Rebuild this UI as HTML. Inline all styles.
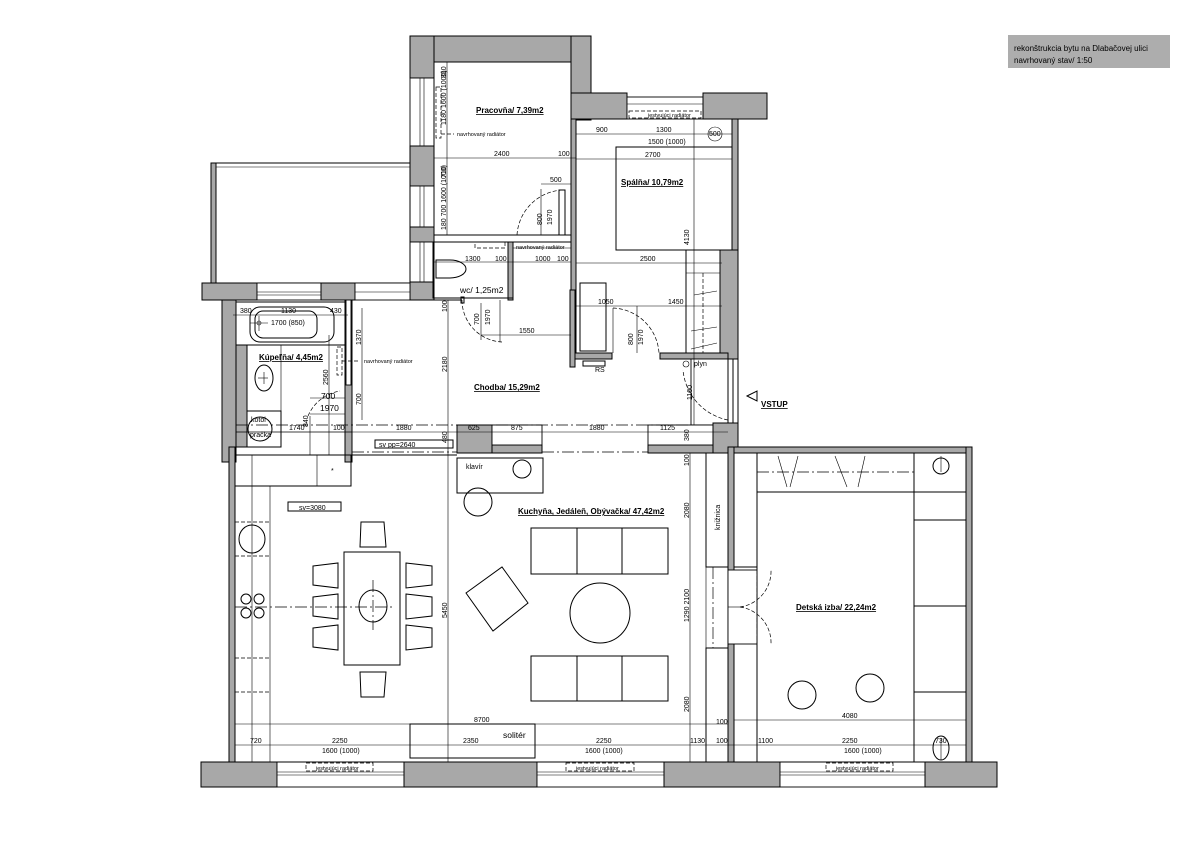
<!DOCTYPE html>
<html><head><meta charset="utf-8"><style>
html,body{margin:0;padding:0;background:#fff;}
svg{display:block;}
text{font-family:"Liberation Sans",sans-serif;fill:#000;}
.w{fill:#a8a8a8;stroke:#000;stroke-width:1;}
.l{stroke:#000;stroke-width:1;fill:none;}
.t{stroke:#000;stroke-width:0.6;fill:none;}
.d{stroke:#000;stroke-width:0.7;fill:none;stroke-dasharray:4,2;}
.dd{stroke:#000;stroke-width:0.7;fill:none;stroke-dasharray:12,3,2,3;}
.f{fill:#fff;stroke:#000;stroke-width:0.9;}
.s{font-size:7px;}
.m{font-size:8.5px;}
.b{font-size:8px;font-weight:bold;text-decoration:underline;}
</style></head><body>
<svg width="1190" height="841" viewBox="0 0 1190 841" xmlns="http://www.w3.org/2000/svg">
<!-- title -->
<rect x="1008" y="35" width="162" height="33" fill="#adadad"/>
<text x="1014" y="51" style="font-size:8px">rekonštrukcia bytu na Dlabačovej ulici</text>
<text x="1014" y="63" style="font-size:8px">navrhovaný stav/ 1:50</text>

<!-- ===== WALLS ===== -->
<!-- Pracovna top -->
<rect class="w" x="410" y="36" width="181" height="26"/>
<rect class="w" x="571" y="36" width="20" height="84"/>
<rect class="w" x="571" y="93" width="56" height="26"/>
<rect class="w" x="571" y="119" width="5" height="240"/>
<!-- window top spalna -->
<rect class="f" x="627" y="97" width="76" height="22"/>
<line class="t" x1="627" y1="104" x2="703" y2="104"/>
<rect class="d" x="629" y="111" width="72" height="7"/>
<text class="s" x="648" y="117" style="font-size:5.5px">jestvujúci radiátor</text>
<rect class="w" x="703" y="93" width="64" height="26"/>
<rect class="w" x="732" y="119" width="6" height="240"/>
<rect class="w" x="720" y="250" width="18" height="109"/>
<!-- Pracovna left wall -->
<rect class="w" x="410" y="36" width="24" height="42"/>
<rect class="f" x="410" y="78" width="24" height="68"/>
<line class="t" x1="420" y1="78" x2="420" y2="146"/><line class="t" x1="424" y1="78" x2="424" y2="146"/>
<rect class="w" x="410" y="146" width="24" height="40"/>
<rect class="f" x="410" y="186" width="24" height="41"/>
<line class="t" x1="420" y1="186" x2="420" y2="227"/><line class="t" x1="424" y1="186" x2="424" y2="227"/>
<rect class="w" x="410" y="227" width="24" height="15"/>
<rect class="f" x="410" y="242" width="24" height="40"/>
<line class="t" x1="420" y1="242" x2="420" y2="282"/><line class="t" x1="424" y1="242" x2="424" y2="282"/>
<rect class="w" x="410" y="282" width="24" height="18"/>
<!-- Terasa -->
<rect class="l" x="211" y="163" width="199" height="120"/>
<rect class="w" x="211" y="163" width="5" height="120"/>
<line class="t" x1="216" y1="167" x2="410" y2="167"/>
<!-- wall row y283-300 -->
<rect class="w" x="202" y="283" width="55" height="17"/>
<rect class="f" x="257" y="283" width="64" height="17"/>
<line class="t" x1="257" y1="292" x2="321" y2="292"/><line class="t" x1="257" y1="295" x2="321" y2="295"/>
<rect class="w" x="321" y="283" width="34" height="17"/>
<rect class="f" x="355" y="283" width="55" height="17"/>
<line class="t" x1="355" y1="292" x2="410" y2="292"/>
<!-- bathroom walls -->
<rect class="w" x="222" y="300" width="14" height="162"/>
<rect class="w" x="236" y="345" width="11" height="102"/>
<rect class="w" x="345" y="300" width="7" height="162"/>
<rect class="f" x="346" y="300" width="5" height="85"/>
<!-- WC walls -->
<rect class="l" x="433" y="242" width="75" height="56"/>
<rect class="w" x="508" y="242" width="5" height="58"/>
<line class="l" x1="434" y1="235" x2="571" y2="235"/>
<line class="l" x1="434" y1="242" x2="571" y2="242"/>
<line class="l" x1="434" y1="61" x2="434" y2="298"/>
<line class="l" x1="433" y1="298" x2="513" y2="298"/>
<line class="l" x1="433" y1="300" x2="462" y2="300"/>
<!-- Spalna bottom wall -->
<rect class="w" x="575" y="353" width="37" height="6"/>
<rect class="w" x="660" y="353" width="68" height="6"/>
<rect class="w" x="570" y="290" width="5" height="77"/>
<!-- right side chodba -->
<rect class="f" x="691" y="359" width="37" height="66"/>
<line class="l" x1="728" y1="359" x2="728" y2="425"/><line class="l" x1="733" y1="359" x2="733" y2="425"/>
<line class="l" x1="738" y1="119" x2="738" y2="447"/>
<!-- chodba bottom -->
<rect class="w" x="457" y="425" width="35" height="28"/>
<rect class="w" x="492" y="445" width="50" height="8"/>
<rect class="f" x="492" y="425" width="50" height="20"/>
<rect class="w" x="648" y="445" width="65" height="8"/>
<rect class="f" x="648" y="425" width="65" height="20"/>
<rect class="w" x="713" y="423" width="25" height="30"/>
<line class="dd" x1="236" y1="425" x2="691" y2="425"/>
<line class="dd" x1="352" y1="452" x2="457" y2="452"/>
<line class="dd" x1="542" y1="452" x2="648" y2="452"/>
<!-- living outer -->
<rect class="w" x="229" y="447" width="6" height="316"/>
<line class="l" x1="235" y1="455" x2="457" y2="455"/>
<rect class="w" x="728" y="447" width="6" height="316"/>
<rect class="w" x="734" y="447" width="238" height="6"/>
<rect class="w" x="966" y="447" width="6" height="316"/>
<!-- bottom wall row -->
<rect class="w" x="201" y="762" width="76" height="25"/>
<rect class="f" x="277" y="762" width="127" height="25"/>
<line class="t" x1="277" y1="772" x2="404" y2="772"/><line class="t" x1="277" y1="775" x2="404" y2="775"/>
<rect class="d" x="306" y="763" width="67" height="8"/>
<text x="316" y="770" style="font-size:5.5px">jestvujúci radiátor</text>
<rect class="w" x="404" y="762" width="133" height="25"/>
<rect class="f" x="537" y="762" width="127" height="25"/>
<line class="t" x1="537" y1="772" x2="664" y2="772"/><line class="t" x1="537" y1="775" x2="664" y2="775"/>
<rect class="d" x="566" y="763" width="68" height="8"/>
<text x="576" y="770" style="font-size:5.5px">jestvujúci radiátor</text>
<rect class="w" x="664" y="762" width="116" height="25"/>
<rect class="f" x="780" y="762" width="145" height="25"/>
<line class="t" x1="780" y1="772" x2="925" y2="772"/><line class="t" x1="780" y1="775" x2="925" y2="775"/>
<rect class="d" x="826" y="763" width="67" height="8"/>
<text x="836" y="770" style="font-size:5.5px">jestvujúci radiátor</text>
<rect class="w" x="925" y="762" width="72" height="25"/>
<line class="l" x1="235" y1="762" x2="966" y2="762"/>

<!-- ===== PRACOVNA ===== -->
<rect class="d" x="436" y="87" width="5" height="51"/>
<line class="d" x1="441" y1="134" x2="454" y2="134"/>
<text x="457" y="136" style="font-size:5.5px">navrhovaný radiátor</text>
<line class="t" x1="447" y1="62" x2="447" y2="235"/>
<line class="t" x1="434" y1="158" x2="576" y2="158"/>
<text class="s" x="494" y="156">2400</text><text class="s" x="558" y="156">100</text>
<text class="s" transform="translate(446,78) rotate(-90)">310</text>
<text class="s" transform="translate(446,125) rotate(-90)">1180 1600 (1000)</text>
<text class="s" transform="translate(446,178) rotate(-90)">710</text>
<text class="s" transform="translate(446,230) rotate(-90)">180 700 1600 (1000)</text>
<text class="b" x="476" y="113">Pracovňa/ 7,39m2</text>
<!-- door pracovna -->
<line class="t" x1="541" y1="189" x2="541" y2="235"/>
<rect class="l" x="559" y="190" width="6" height="45"/>
<path class="d" d="M517 235 A48 48 0 0 1 563 190"/>
<line class="t" x1="541" y1="184" x2="571" y2="184"/><text class="s" x="550" y="182">500</text>
<text class="s" transform="translate(542,225) rotate(-90)">800</text>
<text class="s" transform="translate(552,225) rotate(-90)">1970</text>
<rect class="d" x="475" y="242" width="30" height="6"/>
<text x="516" y="249" style="font-size:5.5px">navrhovaný radiátor</text>
<line class="t" x1="513" y1="248" x2="571" y2="248"/>
<!-- WC -->
<path class="l" d="M436 260 h14 a16 9 0 0 1 0 18 h-14 z"/>
<line class="t" x1="434" y1="262" x2="571" y2="262"/>
<text class="s" x="465" y="261">1300</text><text class="s" x="495" y="261">100</text>
<text class="s" x="535" y="261">1000</text><text class="s" x="557" y="261">100</text>
<text class="m" x="460" y="293">wc/ 1,25m2</text>
<!-- wc door -->
<rect class="l" x="461" y="297" width="3" height="6"/>
<path class="d" d="M462 300 A42 42 0 0 0 502 342"/>
<line class="t" x1="481" y1="303" x2="481" y2="340"/>
<line class="t" x1="500" y1="300" x2="500" y2="342"/>
<line class="t" x1="481" y1="335" x2="571" y2="335"/>
<text class="s" x="519" y="333">1550</text>
<text class="s" transform="translate(479,325) rotate(-90)">700</text>
<text class="s" transform="translate(490,325) rotate(-90)">1970</text>

<!-- ===== SPALNA ===== -->
<line class="t" x1="576" y1="134" x2="732" y2="134"/>
<text class="s" x="596" y="132">900</text><text class="s" x="656" y="132">1300</text>
<circle class="t" cx="715" cy="134" r="7"/><text class="s" x="709" y="136">500</text>
<text class="s" x="648" y="144">1500 (1000)</text>
<rect class="l" x="616" y="147" width="116" height="103"/>
<line class="t" x1="576" y1="159" x2="732" y2="159"/>
<text class="s" x="645" y="157">2700</text>
<text class="b" x="621" y="185">Spálňa/ 10,79m2</text>
<line class="t" x1="694" y1="119" x2="694" y2="425"/>
<text class="s" transform="translate(689,245) rotate(-90)">4130</text>
<line class="t" x1="576" y1="263" x2="722" y2="263"/>
<text class="s" x="640" y="261">2500</text>
<rect class="l" x="686" y="250" width="34" height="103"/>
<line class="t" x1="686" y1="273" x2="720" y2="273"/>
<line class="d" x1="703" y1="273" x2="703" y2="353"/>
<path class="t" d="M694 295 L717 291 M691 331 L717 327 M691 349 L717 343"/>
<rect class="l" x="580" y="283" width="26" height="68"/>
<line class="t" x1="576" y1="306" x2="722" y2="306"/>
<text class="s" x="598" y="304">1050</text><text class="s" x="668" y="304">1450</text>
<line class="t" x1="613" y1="308" x2="613" y2="353"/>
<line class="t" x1="637" y1="306" x2="637" y2="353"/>
<path class="d" d="M613 308 A48 48 0 0 1 659 353"/>
<text class="s" transform="translate(633,345) rotate(-90)">800</text>
<text class="s" transform="translate(643,345) rotate(-90)">1970</text>
<rect class="l" x="583" y="361" width="22" height="5"/>
<text class="s" x="595" y="372">RS</text>
<circle class="t" cx="686" cy="364" r="3"/>
<text class="s" x="694" y="366">plyn</text>
<!-- entry door -->
<path class="d" d="M728 420 A56 56 0 0 1 683 370"/>
<text class="s" transform="translate(692,400) rotate(-90)">1160</text>
<path class="l" d="M747 396 L757 391 L757 401 Z"/>
<text class="b" x="761" y="407">VSTUP</text>

<!-- ===== KUPELNA ===== -->
<rect class="l" x="236" y="302" width="109" height="43"/>
<rect class="l" x="250" y="307" width="84" height="35" rx="10"/>
<rect class="l" x="255" y="311" width="62" height="27" rx="8"/>
<circle class="t" cx="259" cy="323" r="2"/><line class="t" x1="250" y1="323" x2="268" y2="323"/><line class="t" x1="259" y1="316" x2="259" y2="331"/>
<text class="s" x="271" y="325">1700 (850)</text>
<line class="t" x1="233" y1="315" x2="348" y2="315"/>
<text class="s" x="240" y="313">380</text><text class="s" x="281" y="313">1130</text><text class="s" x="330" y="313">430</text>
<text class="b" x="259" y="360">Kúpeľňa/ 4,45m2</text>
<ellipse class="l" cx="264" cy="378" rx="9" ry="13"/>
<line class="t" x1="258" y1="378" x2="268" y2="378"/><line class="t" x1="264" y1="372" x2="264" y2="384"/>
<line class="t" x1="281" y1="345" x2="281" y2="447"/>
<rect class="d" x="337" y="347" width="5" height="28"/>
<line class="d" x1="342" y1="361" x2="360" y2="361"/>
<text x="364" y="363" style="font-size:5.5px">navrhovaný radiátor</text>
<rect class="l" x="247" y="411" width="34" height="36"/>
<circle class="l" cx="260" cy="429" r="12"/>
<text class="s" x="251" y="422">kotol</text><text class="s" x="250" y="437">pračka</text>
<line class="t" x1="236" y1="432" x2="352" y2="432"/>
<text class="s" x="289" y="430">1740</text><text class="s" x="333" y="430">100</text>
<path class="d" d="M308 416 A42 42 0 0 1 340 391"/>
<line class="t" x1="310" y1="416" x2="310" y2="455"/>
<line class="t" x1="310" y1="398" x2="345" y2="398"/><line class="t" x1="310" y1="414" x2="345" y2="414"/>
<text class="m" x="321" y="399">700</text><text class="m" x="320" y="411">1970</text>
<line class="t" x1="329" y1="335" x2="329" y2="455"/>
<text class="s" transform="translate(328,385) rotate(-90)">2560</text>
<text class="s" transform="translate(308,427) rotate(-90)">840</text>

<!-- ===== CHODBA ===== -->
<line class="l" x1="352" y1="300" x2="352" y2="447"/>
<line class="t" x1="362" y1="308" x2="362" y2="420"/>
<text class="s" transform="translate(361,345) rotate(-90)">1370</text>
<text class="s" transform="translate(361,405) rotate(-90)">700</text>
<line class="t" x1="448" y1="300" x2="448" y2="762"/>
<text class="s" transform="translate(447,312) rotate(-90)">100</text>
<text class="s" transform="translate(447,372) rotate(-90)">2180</text>
<text class="s" transform="translate(447,443) rotate(-90)">480</text>
<text class="b" x="474" y="390">Chodba/ 15,29m2</text>
<line class="t" x1="236" y1="432" x2="728" y2="432"/>
<text class="s" x="396" y="430">1880</text><text class="s" x="468" y="430">625</text>
<text class="s" x="511" y="430">875</text><text class="s" x="589" y="430">1880</text>
<text class="s" x="660" y="430">1125</text>
<text class="s" transform="translate(689,441) rotate(-90)">380</text>
<rect class="l" x="375" y="440" width="78" height="8"/>
<text class="s" x="379" y="447">sv pp=2640</text>

<!-- ===== LIVING ===== -->
<rect class="l" x="235" y="455" width="116" height="31"/>
<line class="t" x1="317" y1="455" x2="317" y2="486"/>
<text class="s" x="331" y="473">*</text>
<line class="t" x1="252" y1="455" x2="252" y2="762"/>
<line class="t" x1="270" y1="486" x2="270" y2="762"/>
<line class="d" x1="235" y1="486" x2="270" y2="486"/>
<line class="d" x1="235" y1="522" x2="270" y2="522"/>
<line class="d" x1="235" y1="556" x2="270" y2="556"/>
<line class="d" x1="235" y1="658" x2="270" y2="658"/>
<line class="d" x1="235" y1="692" x2="270" y2="692"/>
<ellipse class="l" cx="252" cy="539" rx="13" ry="14"/>
<circle class="l" cx="246" cy="599" r="5"/><circle class="l" cx="259" cy="599" r="5"/>
<circle class="l" cx="246" cy="613" r="5"/><circle class="l" cx="259" cy="613" r="5"/>
<line class="dd" x1="235" y1="607" x2="395" y2="607"/>
<rect class="l" x="288" y="502" width="53" height="9"/>
<text class="s" x="299" y="510">sv=3080</text>
<rect class="l" x="344" y="552" width="56" height="113"/>
<ellipse class="l" cx="373" cy="606" rx="14" ry="16"/>
<line class="dd" x1="373" y1="580" x2="373" y2="630"/>
<path class="l" d="M361 522 L384 522 L386 547 L360 547 Z"/>
<path class="l" d="M360 672 L386 672 L384 697 L361 697 Z"/>
<path class="l" d="M313 566 L338 563 L338 588 L313 585 Z"/>
<path class="l" d="M313 597 L338 594 L338 619 L313 616 Z"/>
<path class="l" d="M313 628 L338 625 L338 650 L313 647 Z"/>
<path class="l" d="M406 563 L432 566 L432 585 L406 588 Z"/>
<path class="l" d="M406 594 L432 597 L432 616 L406 619 Z"/>
<path class="l" d="M406 625 L432 628 L432 647 L406 650 Z"/>
<text class="s" transform="translate(447,618) rotate(-90)">5450</text>
<rect class="l" x="457" y="458" width="86" height="35"/>
<text class="s" x="466" y="469">klavír</text>
<circle class="l" cx="522" cy="469" r="9"/>
<circle class="l" cx="478" cy="502" r="14"/>
<text class="b" x="518" y="514">Kuchyňa, Jedáleň, Obývačka/ 47,42m2</text>
<rect class="l" x="531" y="528" width="137" height="46"/>
<line class="l" x1="577" y1="528" x2="577" y2="574"/><line class="l" x1="622" y1="528" x2="622" y2="574"/>
<rect class="l" x="531" y="656" width="137" height="45"/>
<line class="l" x1="577" y1="656" x2="577" y2="701"/><line class="l" x1="622" y1="656" x2="622" y2="701"/>
<ellipse class="l" cx="600" cy="613" rx="30" ry="30"/>
<path class="l" d="M466 593 L502 567 L528 603 L493 631 Z"/>
<line class="t" x1="690" y1="453" x2="690" y2="762"/>
<line class="t" x1="706" y1="453" x2="706" y2="762"/>
<text class="s" transform="translate(689,466) rotate(-90)">100</text>
<text class="s" transform="translate(689,518) rotate(-90)">2080</text>
<text class="s" transform="translate(689,622) rotate(-90)">1290 2100</text>
<text class="s" transform="translate(689,712) rotate(-90)">2080</text>
<rect class="l" x="706" y="453" width="22" height="114"/>
<text class="s" transform="translate(720,530) rotate(-90)">knižnica</text>
<rect class="l" x="706" y="648" width="22" height="114"/>
<line class="dd" x1="713" y1="567" x2="713" y2="648"/>
<!-- bottom dims -->
<line class="t" x1="235" y1="724" x2="728" y2="724"/>
<text class="s" x="474" y="722">8700</text>
<line class="t" x1="235" y1="745" x2="966" y2="745"/>
<text class="s" x="250" y="743">720</text><text class="s" x="332" y="743">2250</text>
<text class="s" x="463" y="743">2350</text><text class="s" x="596" y="743">2250</text>
<text class="s" x="690" y="743">1130</text><text class="s" x="716" y="743">100</text>
<text class="s" x="716" y="724">100</text>
<text class="s" x="322" y="753">1600 (1000)</text><text class="s" x="585" y="753">1600 (1000)</text>
<rect class="l" x="410" y="724" width="125" height="34"/>
<text class="m" x="503" y="738">solitér</text>

<!-- ===== DETSKA ===== -->
<rect class="l" x="734" y="453" width="23" height="114"/>
<line class="l" x1="757" y1="453" x2="757" y2="762"/>
<rect class="l" x="757" y="453" width="157" height="39"/>
<line class="dd" x1="757" y1="472" x2="914" y2="472"/>
<path class="t" d="M778 456 L787 487 M798 456 L790 487 M835 456 L847 487 M865 456 L858 487"/>
<rect class="l" x="914" y="453" width="52" height="309"/>
<line class="l" x1="914" y1="492" x2="966" y2="492"/>
<line class="l" x1="914" y1="520" x2="966" y2="520"/>
<line class="l" x1="914" y1="606" x2="966" y2="606"/>
<line class="l" x1="914" y1="692" x2="966" y2="692"/>
<circle class="l" cx="941" cy="466" r="8"/><line class="t" x1="941" y1="456" x2="941" y2="472"/>
<!-- double door -->
<rect class="f" x="728" y="570" width="29" height="74"/>
<line class="t" x1="728" y1="607" x2="740" y2="607"/>
<path class="d" d="M740 607 A36 36 0 0 0 771 570"/>
<path class="d" d="M740 607 A36 36 0 0 1 771 644"/>
<line class="d" x1="757" y1="570" x2="757" y2="644"/>
<text class="b" x="796" y="610">Detská izba/ 22,24m2</text>
<circle class="l" cx="802" cy="695" r="14"/>
<circle class="l" cx="870" cy="688" r="14"/>
<line class="t" x1="734" y1="720" x2="966" y2="720"/>
<text class="s" x="842" y="718">4080</text>
<text class="s" x="758" y="743">1100</text><text class="s" x="842" y="743">2250</text>
<text class="s" x="935" y="743">730</text>
<text class="s" x="844" y="753">1600 (1000)</text>
<ellipse class="l" cx="941" cy="748" rx="8" ry="12"/><line class="t" x1="941" y1="738" x2="941" y2="760"/>
</svg>
</body></html>
